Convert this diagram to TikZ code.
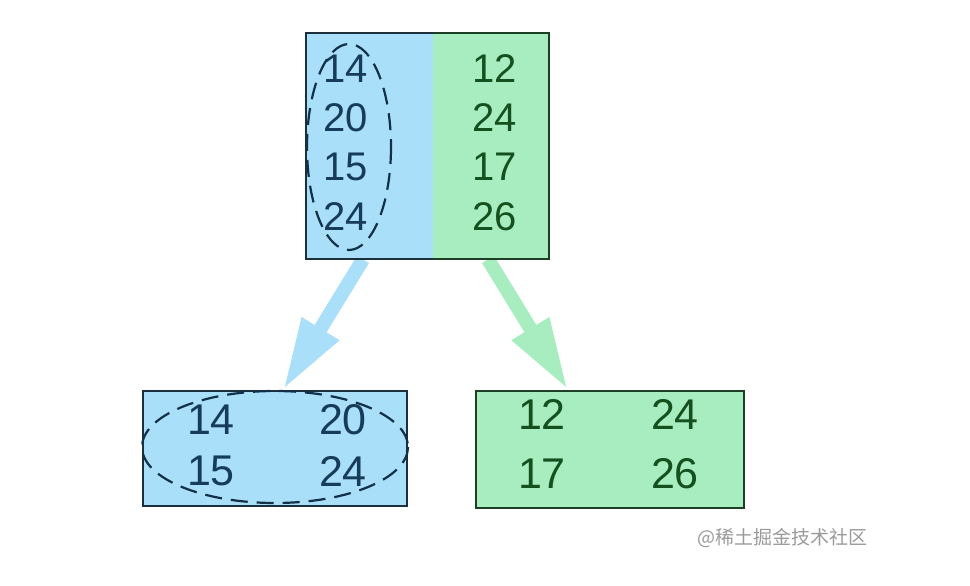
\documentclass[tikz,border=0pt]{standalone}
\usepackage{fontspec}
\setmainfont{Liberation Sans}
\newfontfamily\cjk{Noto Sans CJK SC}
\usetikzlibrary{arrows.meta,calc}
\definecolor{bluefill}{HTML}{A9DFF8}
\definecolor{greenfill}{HTML}{A8EDBF}
\definecolor{bluetext}{HTML}{173C5A}
\definecolor{greentext}{HTML}{15501F}
\definecolor{blueborder}{HTML}{1B2F3C}
\definecolor{greenborder}{HTML}{1C3F25}
\definecolor{marks}{HTML}{9A9A9A}
\tikzset{
  bluebox/.style={draw=blueborder, fill=bluefill, line width=2pt, anchor=north west, inner sep=0pt},
  greenbox/.style={draw=greenborder, fill=greenfill, line width=2pt, anchor=north west, inner sep=0pt},
  halfbox/.style={anchor=north west, inner sep=0pt},
  bnum/.style={text=bluetext, font=\fontsize{40}{40}\selectfont, inner sep=0pt},
  gnum/.style={text=greentext, font=\fontsize{40}{40}\selectfont, inner sep=0pt},
  bnumL/.style={bnum, font=\fontsize{43}{43}\selectfont},
  gnumL/.style={gnum, font=\fontsize{43}{43}\selectfont},
  dashring/.style={draw=bluetext!80!black, line width=2.2pt, dash pattern=on 17pt off 9pt},
  fatarrow/.style={line width=14pt, -{Triangle[length=72pt,width=40pt]}},
}
\begin{document}
\begin{tikzpicture}[x=1pt,y=-1pt]
\useasboundingbox (0,0) rectangle (970,586);
% top box: two coloured halves, no divider
\node[halfbox, fill=bluefill, minimum width=127pt, minimum height=226pt] (topL) at (306,33) {};
\node[halfbox, fill=greenfill, minimum width=116pt, minimum height=226pt] (topR) at (433,33) {};
% bottom boxes
\node[bluebox, minimum width=264pt, minimum height=115pt] (botL) at (142,390) {};
\node[greenbox, minimum width=268pt, minimum height=117pt] (botR) at (475,390) {};
% arrows
\coordinate (aL) at ($(topL.south west)+(57,0)$);
\coordinate (aR) at ($(topR.south west)+(55,0)$);
\coordinate (tL) at ($(botL.north west)+(141,0)$);
\coordinate (tR) at ($(botR.north west)+(93,0)$);
\draw[fatarrow, bluefill] (aL) -- (tL);
\draw[fatarrow, greenfill] (aR) -- (tR);
% top box borders
\draw[blueborder, line width=2pt] (topL.north east) -- (topL.north west) -- (topL.south west) -- (topL.south east);
\draw[greenborder, line width=2pt] (topR.north west) -- (topR.north east) -- (topR.south east) -- (topR.south west);
% top numbers
\node[bnum] (t14) at (346,69) {14};
\node[bnum] (t20) at (346,118) {20};
\node[bnum] (t15) at (346,167) {15};
\node[bnum] (t24) at (346,217) {24};
\node[gnum] (t12) at (495,69) {12};
\node[gnum] (t24b) at (495,118) {24};
\node[gnum] (t17) at (495,167) {17};
\node[gnum] (t26) at (495,217) {26};
\draw[dashring] (349,147) ellipse [x radius=42, y radius=103];
% bottom-left numbers
\node[bnumL] (b14) at (211,420) {14};
\node[bnumL] (b20) at (343,420) {20};
\node[bnumL] (b15) at (211,471) {15};
\node[bnumL] (b24) at (343,471) {24};
\draw[dashring] (275,447) ellipse [x radius=133, y radius=56];
% bottom-right numbers
\node[gnumL] (c12) at (542,414) {12};
\node[gnumL] (c24) at (675,414) {24};
\node[gnumL] (c17) at (542,474) {17};
\node[gnumL] (c26) at (675,474) {26};
% watermark
\node[text=marks, font=\cjk\fontsize{19}{19}\selectfont, anchor=west, inner sep=0pt] (wm) at (697,538) {@稀土掘金技术社区};
\end{tikzpicture}
\end{document}
